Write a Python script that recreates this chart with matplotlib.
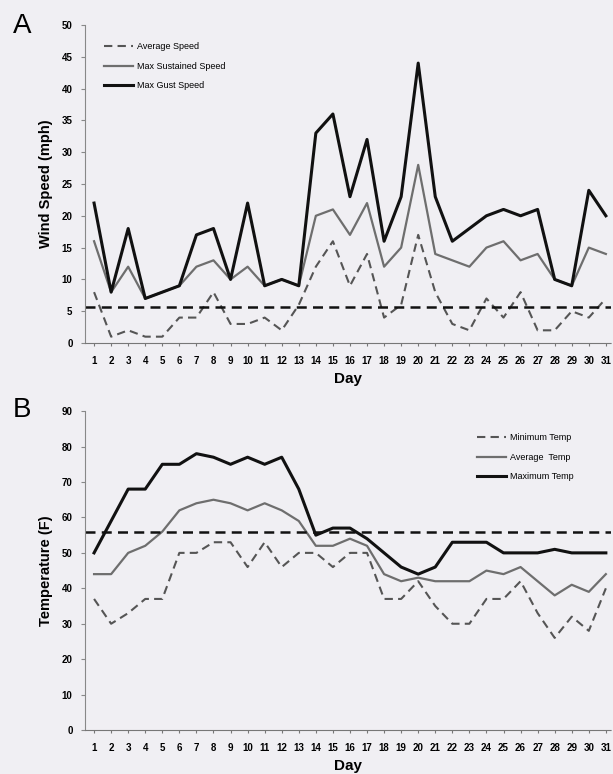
import numpy as np
import matplotlib.pyplot as plt

plt.rcParams['font.family'] = ['Liberation Sans', 'DejaVu Sans']

days = list(range(1, 32))

# panel A: wind speed (mph)
avg_speed = [8, 1, 2, 1, 1, 4, 4, 8, 3, 3, 4, 2, 6, 12, 16, 9, 14, 4, 6, 17, 8, 3, 2, 7, 4, 8, 2, 2, 5, 4, 7]
max_sustained = [16, 8, 12, 7, 8, 9, 12, 13, 10, 12, 9, 10, 9, 20, 21, 17, 22, 12, 15, 28, 14, 13, 12, 15, 16, 13, 14, 10, 9, 15, 14]
max_gust = [22, 8, 18, 7, 8, 9, 17, 18, 10, 22, 9, 10, 9, 33, 36, 23, 32, 16, 23, 44, 23, 16, 18, 20, 21, 20, 21, 10, 9, 24, 20]
speed_ref = 5.6

# panel B: temperature (F)
min_temp = [37, 30, 33, 37, 37, 50, 50, 53, 53, 46, 53, 46, 50, 50, 46, 50, 50, 37, 37, 42, 35, 30, 30, 37, 37, 42, 33, 26, 32, 28, 40]
avg_temp = [44, 44, 50, 52, 56, 62, 64, 65, 64, 62, 64, 62, 59, 52, 52, 54, 52, 44, 42, 43, 42, 42, 42, 45, 44, 46, 42, 38, 41, 39, 44]
max_temp = [50, 59, 68, 68, 75, 75, 78, 77, 75, 77, 75, 77, 68, 55, 57, 57, 54, 50, 46, 44, 46, 53, 53, 53, 50, 50, 50, 51, 50, 50, 50]
temp_ref = 56

bg = '#f0eff3'
fig = plt.figure(figsize=(6.13, 7.74), dpi=100, facecolor=bg)
axA = fig.add_axes([0.1387, 0.5568, 0.858, 0.411])
axB = fig.add_axes([0.1387, 0.0568, 0.858, 0.412])


def style(ax, ymax, step):
    ax.set_facecolor(bg)
    for s in ['top', 'right']:
        ax.spines[s].set_visible(False)
    ax.spines['left'].set_color('#888888')
    ax.spines['bottom'].set_color('#777777')
    ax.spines['bottom'].set_linestyle((0, (1, 1)))
    ax.set_xlim(0.47, 31.3)
    ax.set_ylim(0, ymax)
    ax.set_yticks(np.arange(0, ymax + 1, step))
    ax.set_xticks(days)
    ax.tick_params(axis='x', length=2, color='#777777', labelsize=7, pad=7)
    ax.tick_params(axis='y', length=3, color='#888888', labelsize=7, pad=6)
    for lab in ax.get_xticklabels() + ax.get_yticklabels():
        lab.set_fontweight('bold')
    ax.set_xlabel('Day', fontsize=11, fontweight='bold', labelpad=5)


def legend(ax, x, y):
    ax.legend(loc='upper left', bbox_to_anchor=(x, y), frameon=False, fontsize=6.5,
              handlelength=3.2, handletextpad=0.5, labelspacing=1.15, borderpad=0,
              borderaxespad=0)


# panel A
axA.plot(days, avg_speed, color='#555555', lw=1.5, ls=(0, (4, 2.5)), label='Average Speed')
axA.plot(days, max_sustained, color='#6e6e6e', lw=1.6, label='Max Sustained Speed')
axA.plot(days, max_gust, color='#111111', lw=2.2, label='Max Gust Speed')
axA.axhline(speed_ref, color='#111111', lw=1.8, ls=(0, (4, 2.5)))
style(axA, 50, 5)
axA.set_ylabel('Wind Speed (mph)', fontsize=10.5, fontweight='bold', labelpad=6)
legend(axA, 0.036, 0.945)

# panel B
axB.plot(days, min_temp, color='#555555', lw=1.5, ls=(0, (4, 2.5)), label='Minimum Temp')
axB.plot(days, avg_temp, color='#6e6e6e', lw=1.6, label='Average  Temp')
axB.plot(days, max_temp, color='#111111', lw=2.2, label='Maximum Temp')
axB.axhline(temp_ref, color='#111111', lw=1.8, ls=(0, (4, 2.5)))
style(axB, 90, 10)
axB.set_ylabel('Temperature (F)', fontsize=10.5, fontweight='bold', labelpad=6)
legend(axB, 0.745, 0.93)

fig.text(0.036, 0.967, 'A', fontsize=20, va='center', ha='center')
fig.text(0.036, 0.47, 'B', fontsize=20, va='center', ha='center')

fig.savefig('out.png', dpi=100, facecolor=bg)
